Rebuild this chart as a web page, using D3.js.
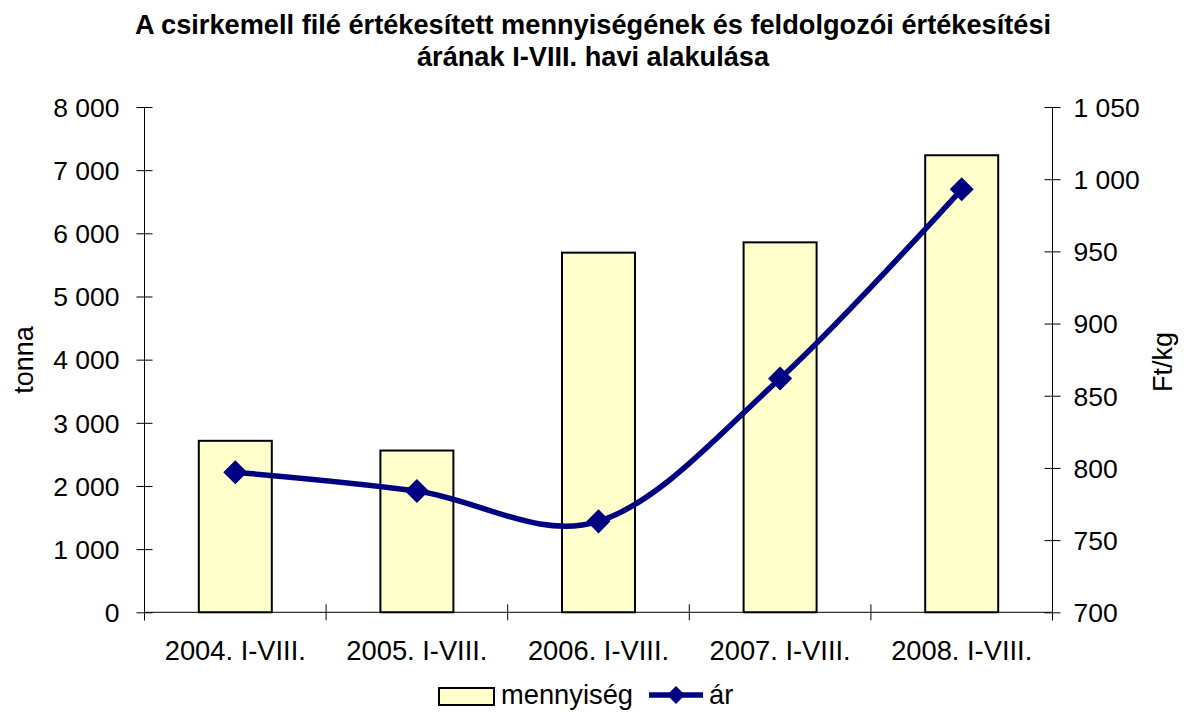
<!DOCTYPE html>
<html>
<head>
<meta charset="utf-8">
<script src="https://cdn.jsdelivr.net/npm/d3@7"></script>
<style>
  html, body { margin: 0; padding: 0; background: #fff; }
  svg { display: block; font-family: "Liberation Sans", Arial, sans-serif; }
</style>
</head>
<body>
<svg id="chart" width="1186" height="713"></svg>
<script>
const titleLines = ["A csirkemell filé értékesített mennyiségének és feldolgozói értékesítési", "árának I-VIII. havi alakulása"];
const categories = ["2004. I-VIII.", "2005. I-VIII.", "2006. I-VIII.", "2007. I-VIII.", "2008. I-VIII."];
const quantity = [2715, 2561, 5694, 5857, 7236];   // tonna
const price = [797, 784, 763, 862, 993];           // Ft/kg
const leftTicks = [0, 1000, 2000, 3000, 4000, 5000, 6000, 7000, 8000];
const rightTicks = [700, 750, 800, 850, 900, 950, 1000, 1050];
const leftLabel = "tonna";
const rightLabel = "Ft/kg";
const seriesNames = ["mennyiség", "ár"];

const svg = d3.select("#chart");
const L = 144.5, R = 1052.5, T = 107, B = 612.3;
const fmt = v => d3.format(",")(v).replace(/,/g, " ");

const x = d3.scaleBand().domain(categories).range([L, R]).padding(0);
const yL = d3.scaleLinear().domain([0, 8000]).range([B, T]);
const yR = d3.scaleLinear().domain([700, 1050]).range([B, T]);

// Title
svg.append("text").attr("x", 593).attr("y", 33.5).attr("text-anchor", "middle")
  .attr("font-size", 27.2).attr("font-weight", "bold").text(titleLines[0]);
svg.append("text").attr("x", 593).attr("y", 66).attr("text-anchor", "middle")
  .attr("font-size", 27.2).attr("font-weight", "bold").text(titleLines[1]);

// Bars
const barW = x.bandwidth() * 0.402;
svg.append("g").selectAll("rect").data(quantity).join("rect")
  .attr("x", (d, i) => x(categories[i]) + x.bandwidth() / 2 - barW / 2)
  .attr("y", d => yL(d))
  .attr("width", barW)
  .attr("height", d => yL(0) - yL(d))
  .attr("fill", "#FFFFCC").attr("stroke", "#000").attr("stroke-width", 2);

// Left axis
const gL = svg.append("g").attr("transform", `translate(${L},0)`)
  .call(d3.axisLeft(yL).tickValues(leftTicks).tickFormat(fmt).tickSize(8).tickPadding(17));
gL.selectAll(".tick line").attr("x2", 8).attr("x1", -8);
gL.select(".domain").attr("d", `M0,${T}V${B + 8}`);
// Right axis
const gR = svg.append("g").attr("transform", `translate(${R},0)`)
  .call(d3.axisRight(yR).tickValues(rightTicks).tickFormat(fmt).tickSize(8).tickPadding(13));
gR.selectAll(".tick line").attr("x1", -8).attr("x2", 8);
gR.select(".domain").attr("d", `M0,${T}V${B + 8}`);
// Bottom axis
const gB = svg.append("g").attr("transform", `translate(0,${B})`)
  .call(d3.axisBottom(x).tickSize(0).tickPadding(28));
gB.select(".domain").attr("d", `M${L},0H${R}`);
const bounds = categories.map(c => x(c)).concat([R]);
gB.selectAll("line.cat").data(bounds).join("line").attr("class", "cat")
  .attr("x1", d => d).attr("x2", d => d).attr("y1", -8).attr("y2", 8)
  .attr("stroke", "#000");

[gL, gR, gB].forEach(g => {
  g.selectAll("text").attr("font-size", 26.5).attr("fill", "#000")
    .attr("font-family", "'Liberation Sans', Arial, sans-serif");
  g.selectAll("path, line").attr("stroke", "#000").attr("stroke-width", 1);
  g.attr("font-family", null).attr("font-size", null);
});
gB.selectAll(".tick text").attr("font-size", 27.3);
gL.selectAll(".tick text").attr("dy", "0.35em");
gR.selectAll(".tick text").attr("dy", "0.35em");

// Axis titles
svg.append("text").attr("transform", "translate(33,360) rotate(-90)")
  .attr("text-anchor", "middle").attr("font-size", 27).text(leftLabel);
svg.append("text").attr("transform", "translate(1172,362) rotate(-90)")
  .attr("text-anchor", "middle").attr("font-size", 27).text(rightLabel);

// Line
const pts = price.map((p, i) => [x(categories[i]) + x.bandwidth() / 2, yR(p)]);
svg.append("path").datum(pts)
  .attr("d", d3.line().curve(d3.curveCardinal.tension(0)))
  .attr("fill", "none").attr("stroke", "#000080").attr("stroke-width", 5.5)
  .attr("stroke-linejoin", "round");
svg.append("g").selectAll("path").data(pts).join("path")
  .attr("d", d3.symbol(d3.symbolSquare, 290))
  .attr("transform", d => `translate(${d[0]},${d[1]}) rotate(45)`)
  .attr("fill", "#000080");

// Legend
const lg = svg.append("g");
lg.append("rect").attr("x", 439).attr("y", 688).attr("width", 55).attr("height", 17)
  .attr("fill", "#FFFFCC").attr("stroke", "#000").attr("stroke-width", 2);
lg.append("text").attr("x", 501).attr("y", 704).attr("font-size", 27.3).text(seriesNames[0]);
lg.append("line").attr("x1", 649).attr("x2", 703).attr("y1", 695).attr("y2", 695)
  .attr("stroke", "#000080").attr("stroke-width", 5.5);
lg.append("path").attr("d", d3.symbol(d3.symbolSquare, 160))
  .attr("transform", "translate(676,695) rotate(45)").attr("fill", "#000080");
lg.append("text").attr("x", 709).attr("y", 704).attr("font-size", 27.3).text(seriesNames[1]);
</script>
</body>
</html>
